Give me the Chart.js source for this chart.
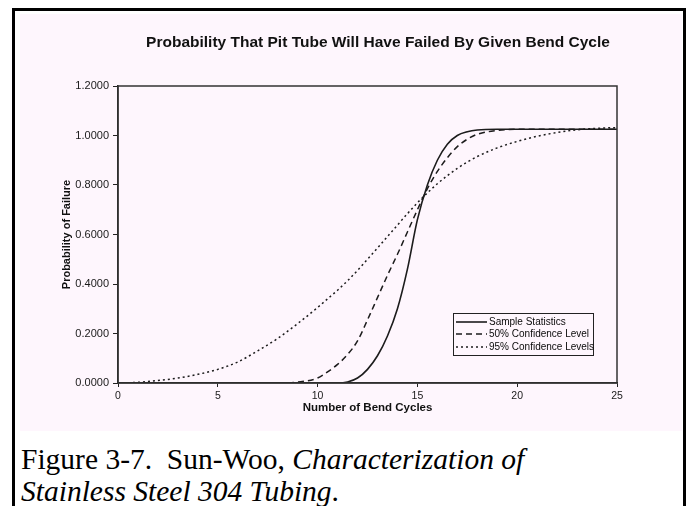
<!DOCTYPE html>
<html>
<head>
<meta charset="utf-8">
<script src="https://cdn.jsdelivr.net/npm/chart.js@4.4.1/dist/chart.umd.min.js"></script>
<style>
  html, body { margin: 0; padding: 0; background: #fff; width: 686px; height: 506px; overflow: hidden; }
  #frame { position: absolute; left: 12px; top: 8px; width: 674px; height: 520px; box-sizing: border-box;
           border: 3px solid #000; border-bottom: none; }
  #plotBox { position: absolute; left: 5px; top: 3px; width: 662px; height: 417px; background: #fef6fd; }
  #chart { position: absolute; left: 0; top: 0; }
  #caption { position: absolute; left: 6px; top: 432px; font-family: "Liberation Serif", "Times New Roman", serif;
             font-size: 29.5px; line-height: 32px; color: #000; white-space: nowrap; }
</style>
</head>
<body>
<div id="frame">
  <div id="plotBox"><canvas id="chart" width="716" height="417"></canvas></div>
  <div id="caption">Figure 3-7.&nbsp; Sun-Woo, <i>Characterization of</i><br><i>Stainless Steel 304 Tubing</i>.</div>
</div>
<script>
// Number of bend cycles (x values)
const bendCycles = [0, 1, 2, 3, 4, 5, 6, 7, 8, 9, 10,
    10.5, 11, 11.5, 12, 12.5, 13, 13.5, 14, 14.5, 15, 15.5, 16, 16.5, 17, 17.5, 18,
    19, 20, 21, 22, 23, 24, 25];

// Probability of failure
const sampleStats = [0, 0, 0, 0, 0, 0, 0, 0, 0, 0, 0,
    0, 0, 0.004, 0.02, 0.055, 0.11, 0.19, 0.3, 0.46, 0.66, 0.8, 0.9, 0.965, 1.0, 1.015, 1.022,
    1.025, 1.025, 1.025, 1.025, 1.025, 1.025, 1.025];
const conf50 = [0, 0, 0, 0, 0, 0, 0, 0, 0, 0.004, 0.02,
    0.045, 0.075, 0.115, 0.17, 0.255, 0.345, 0.435, 0.52, 0.61, 0.7, 0.785, 0.855, 0.91, 0.955, 0.985, 1.005,
    1.02, 1.025, 1.025, 1.025, 1.025, 1.025, 1.025];
const conf95 = [0, 0.003, 0.01, 0.02, 0.035, 0.055, 0.085, 0.13, 0.18, 0.24, 0.305,
    0.34, 0.375, 0.413, 0.455, 0.5, 0.545, 0.592, 0.638, 0.684, 0.728, 0.768, 0.805, 0.838, 0.867, 0.893, 0.915,
    0.95, 0.976, 0.997, 1.012, 1.023, 1.029, 1.032];

const seriesNames = ['Sample Statistics', '50% Confidence Level', '95% Confidence Levels'];
const xTickValues = [0, 5, 10, 15, 20, 25];
const yTickValues = [0, 0.2, 0.4, 0.6, 0.8, 1.0, 1.2];

const ink = '#1c1c1c';
const sans = '"Liberation Sans", Arial, sans-serif';

function toPoints(values) {
    return bendCycles.map((x, i) => ({ x: x, y: values[i] }));
}

// Box round the plot area (top and right edges)
const plotFrame = {
    id: 'plotFrame',
    afterDatasetsDraw(chart) {
        const { ctx, chartArea } = chart;
        ctx.save();
        ctx.strokeStyle = '#333';
        ctx.lineWidth = 1.5;
        ctx.strokeRect(chartArea.left, chartArea.top, chartArea.right - chartArea.left, chartArea.bottom - chartArea.top);
        ctx.restore();
    }
};

// Boxed legend inside the lower right of the plot
const boxLegend = {
    id: 'boxLegend',
    afterDraw(chart) {
        const { ctx, chartArea } = chart;
        const w = 140, h = 42;
        const x0 = chartArea.right - 24 - w;
        const y0 = chartArea.bottom - 28 - h;
        ctx.save();
        ctx.strokeStyle = '#222';
        ctx.lineWidth = 1;
        ctx.strokeRect(x0 + 0.5, y0 + 0.5, w, h);
        ctx.font = '10px ' + sans;
        ctx.textBaseline = 'middle';
        ctx.fillStyle = '#0a0a0a';
        const rows = [9, 21, 34];
        chart.data.datasets.forEach((ds, i) => {
            const y = y0 + rows[i];
            ctx.beginPath();
            ctx.setLineDash(ds.borderDash || []);
            ctx.lineWidth = ds.borderWidth;
            ctx.strokeStyle = ds.borderColor;
            ctx.moveTo(x0 + 3, y);
            ctx.lineTo(x0 + 34, y);
            ctx.stroke();
            ctx.setLineDash([]);
            ctx.fillText(ds.label, x0 + 36, y);
        });
        ctx.restore();
    }
};

const ctx = document.getElementById('chart').getContext('2d');
new Chart(ctx, {
    type: 'line',
    data: {
        datasets: [{
            label: seriesNames[0],
            data: toPoints(sampleStats),
            borderColor: ink,
            borderWidth: 1.6,
            borderDash: [],
            pointRadius: 0,
            cubicInterpolationMode: 'monotone'
        }, {
            label: seriesNames[1],
            data: toPoints(conf50),
            borderColor: ink,
            borderWidth: 1.5,
            borderDash: [6, 4],
            pointRadius: 0,
            cubicInterpolationMode: 'monotone'
        }, {
            label: seriesNames[2],
            data: toPoints(conf95),
            borderColor: ink,
            borderWidth: 1.5,
            borderDash: [2, 3],
            pointRadius: 0,
            cubicInterpolationMode: 'monotone'
        }]
    },
    options: {
        responsive: false,
        animation: false,
        layout: { padding: 0 },
        plugins: {
            legend: { display: false },
            tooltip: { enabled: false },
            title: {
                display: true,
                text: 'Probability That Pit Tube Will Have Failed By Given Bend Cycle',
                color: '#111',
                font: { family: sans, size: 15.5, weight: 'bold' },
                padding: { top: 19.7, bottom: 33.7 }
            }
        },
        scales: {
            x: {
                type: 'linear',
                min: 0,
                max: 25,
                afterBuildTicks: scale => { scale.ticks = xTickValues.map(v => ({ value: v })); },
                afterFit: scale => { scale.height = 48; },
                grid: { drawOnChartArea: false, drawTicks: true, tickLength: 4, color: '#222' },
                border: { display: true, color: '#222', width: 1.5 },
                ticks: {
                    color: '#1a1a1a',
                    padding: 3,
                    maxRotation: 0,
                    font: { family: sans, size: 10.5 }
                },
                title: {
                    display: true,
                    text: 'Number of Bend Cycles',
                    color: '#111',
                    font: { family: sans, size: 11.5, weight: 'bold' },
                    padding: { top: 2, bottom: 16 }
                }
            },
            y: {
                min: 0,
                max: 1.2,
                afterBuildTicks: scale => { scale.ticks = yTickValues.map(v => ({ value: v })); },
                afterFit: scale => { scale.width = 98; },
                grid: { drawOnChartArea: false, drawTicks: true, tickLength: 5, color: '#222' },
                border: { display: true, color: '#222', width: 1.5 },
                ticks: {
                    color: '#1a1a1a',
                    padding: 4,
                    font: { family: sans, size: 11 },
                    callback: v => Number(v).toFixed(4)
                },
                title: {
                    display: true,
                    text: 'Probability of Failure',
                    color: '#111',
                    font: { family: sans, size: 11, weight: 'bold' },
                    padding: { top: 40, bottom: 0 }
                }
            },
            // empty space on the right so the page title sits where the original has it
            yRight: {
                position: 'right',
                min: 0,
                max: 1.2,
                afterFit: scale => { scale.width = 119; },
                grid: { display: false },
                border: { display: false },
                ticks: { display: false }
            }
        }
    },
    plugins: [plotFrame, boxLegend]
});
</script>
</body>
</html>
